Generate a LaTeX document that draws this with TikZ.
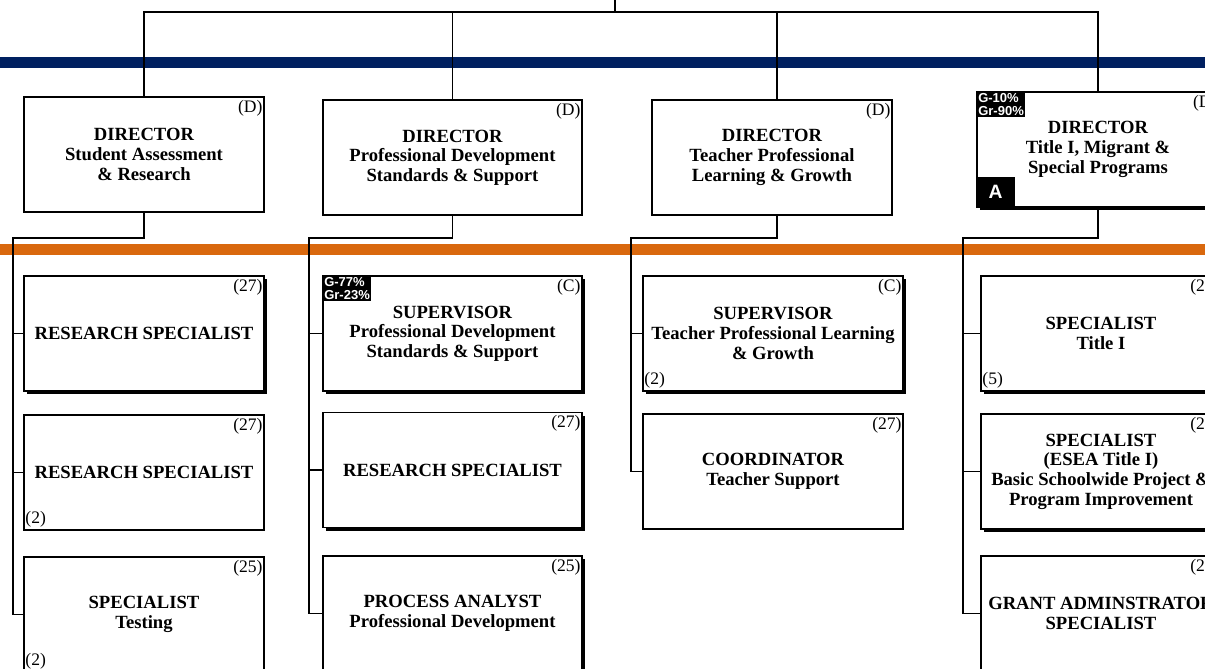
\documentclass[tikz,border=0pt]{standalone}
\usepackage{fontspec}
\setmainfont{Liberation Serif}
\newfontfamily\tagfont{Liberation Sans}
\usepackage{xcolor}
\usetikzlibrary{positioning,shadows}

\definecolor{bandblue}{RGB}{0,32,96}
\definecolor{bandorange}{RGB}{217,104,14}

\tikzset{
    post/.style={rectangle, draw, line width=0.75pt, fill=white, align=center,
        font=\fontsize{10.6}{11.2}\selectfont\bfseries,
        minimum width=4.8cm, minimum height=2.3cm, inner sep=0pt},
    widepost/.style={post, minimum width=5.2cm},
    shade/.style={drop shadow={shadow xshift=1.8pt, shadow yshift=-1.8pt, fill=black, opacity=1}},
    grade/.style={font=\fontsize{10}{11}\selectfont, inner xsep=1pt, inner ysep=2pt},
    tag/.style={fill=black, text=white, align=left, inner sep=0.9pt,
        font=\tagfont\fontsize{7.4}{7.6}\selectfont\bfseries},
    atag/.style={fill=black, text=white, inner sep=0pt, minimum width=0.76cm, minimum height=0.6cm,
        font=\tagfont\fontsize{11}{11}\selectfont\bfseries},
    wire/.style={line width=0.8pt}
}

\begin{document}
\begin{tikzpicture}[x=0.02cm, y=-0.02cm]
    \useasboundingbox (0,0) rectangle (1205,669);

    % colour bands
    \fill[bandblue] (0,57) rectangle (1205,68);
    \fill[bandorange] (0,244) rectangle (1205,255);

    % Directors
    \node[post] (dirA) at (144,154.5) {DIRECTOR\\Student Assessment\\\& Research};
    \node[widepost, minimum width=5.18cm] (dirB) at (452.5,157.5) {DIRECTOR\\Professional Development\\Standards \& Support};
    \node[post] (dirC) at (772,157.5) {DIRECTOR\\Teacher Professional\\Learning \& Growth};
    \node[post, shade, minimum width=4.84cm] (dirD) at (1098,149.5) {DIRECTOR\\Title I, Migrant \&\\Special Programs};

    \node[grade, anchor=north east] (dirA-g) at (dirA.north east) {(D)};
    \node[grade, anchor=north east] (dirB-g) at (dirB.north east) {(D)};
    \node[grade, anchor=north east] (dirC-g) at (dirC.north east) {(D)};
    \node[grade, anchor=north east] (dirD-g) at (dirD.north east) {(D)};
    \node[tag, anchor=north west] (dirD-t) at (dirD.north west) {G-10\%\\Gr-90\%};
    \node[atag, anchor=south west] (dirD-a) at (dirD.south west) {A};

    % Student Assessment & Research
    \node[post, shade] (resA) at (144,333.5) {RESEARCH SPECIALIST};
    \node[post] (resB) at (144,472.5) {RESEARCH SPECIALIST};
    \node[post] (tstA) at (144,614.5) {SPECIALIST\\Testing};
    \node[grade, anchor=north east] (resA-g) at (resA.north east) {(27)};
    \node[grade, anchor=north east] (resB-g) at (resB.north east) {(27)};
    \node[grade, anchor=south west] (resB-n) at (resB.south west) {(2)};
    \node[grade, anchor=north east] (tstA-g) at (tstA.north east) {(25)};
    \node[grade, anchor=south west] (tstA-n) at (tstA.south west) {(2)};

    % Professional Development Standards & Support
    \node[widepost, shade, minimum width=5.18cm] (supB) at (452.5,333.5) {SUPERVISOR\\Professional Development\\Standards \& Support};
    \node[widepost, shade, minimum width=5.18cm] (resC) at (452.5,470) {RESEARCH SPECIALIST};
    \node[widepost, shade, minimum width=5.18cm] (anlB) at (452.5,613.5) {PROCESS ANALYST\\Professional Development};
    \node[grade, anchor=north east] (supB-g) at (supB.north east) {(C)};
    \node[tag, anchor=north west] (supB-t) at (supB.north west) {G-77\%\\Gr-23\%};
    \node[grade, anchor=north east] (resC-g) at (resC.north east) {(27)};
    \node[grade, anchor=north east] (anlB-g) at (anlB.north east) {(25)};

    % Teacher Professional Learning & Growth
    \node[widepost, shade] (supC) at (773,333.5) {SUPERVISOR\\Teacher Professional Learning\\\& Growth};
    \node[widepost] (corC) at (773,471.5) {COORDINATOR\\Teacher Support};
    \node[grade, anchor=north east] (supC-g) at (supC.north east) {(C)};
    \node[grade, anchor=south west] (supC-n) at (supC.south west) {(2)};
    \node[grade, anchor=north east] (corC-g) at (corC.north east) {(27)};

    % Title I, Migrant & Special Programs
    \node[post, shade] (spcD) at (1101,333.5) {SPECIALIST\\Title I};
    \node[post, shade] (spcE) at (1101,471.5) {SPECIALIST\\(ESEA Title I)\\Basic Schoolwide Project \&\\Program Improvement};
    \node[post] (grtD) at (1101,613.5) {GRANT ADMINSTRATOR\\SPECIALIST};
    \node[grade, anchor=north east] (spcD-g) at (spcD.north east) {(27)};
    \node[grade, anchor=south west] (spcD-n) at (spcD.south west) {(5)};
    \node[grade, anchor=north east] (spcE-g) at (spcE.north east) {(27)};
    \node[grade, anchor=north east] (grtD-g) at (grtD.north east) {(27)};

    % connectors from the top
    \coordinate (chief) at (615,-5);
    \coordinate (bus) at (615,12);
    \draw[wire] (chief) -- (bus);
    \draw[wire] (dirA.north) |- (bus) -| (dirD.north);
    \draw[wire] (dirB.north) -- (dirB.north |- bus);
    \draw[wire] (dirC.north) ++(5,0) |- (bus);

    % connectors to the staff
    \coordinate (jA) at (13,238);
    \coordinate (jB) at (309,238);
    \coordinate (jC) at (631,238);
    \coordinate (jD) at (963,238);
    \draw[wire] (dirA.south) |- (jA) |- (tstA.west);
    \draw[wire] (jA) |- (resA.west);
    \draw[wire] (jA) |- (resB.west);
    \draw[wire] (dirB.south) |- (jB) |- (anlB.west);
    \draw[wire] (jB) |- (supB.west);
    \draw[wire] (jB) |- (resC.west);
    \draw[wire] (dirC.south) ++(5,0) |- (jC) |- (corC.west);
    \draw[wire] (jC) |- (supC.west);
    \draw[wire] (dirD.south) |- (jD) |- (grtD.west);
    \draw[wire] (jD) |- (spcD.west);
    \draw[wire] (jD) |- (spcE.west);
\end{tikzpicture}
\end{document}
